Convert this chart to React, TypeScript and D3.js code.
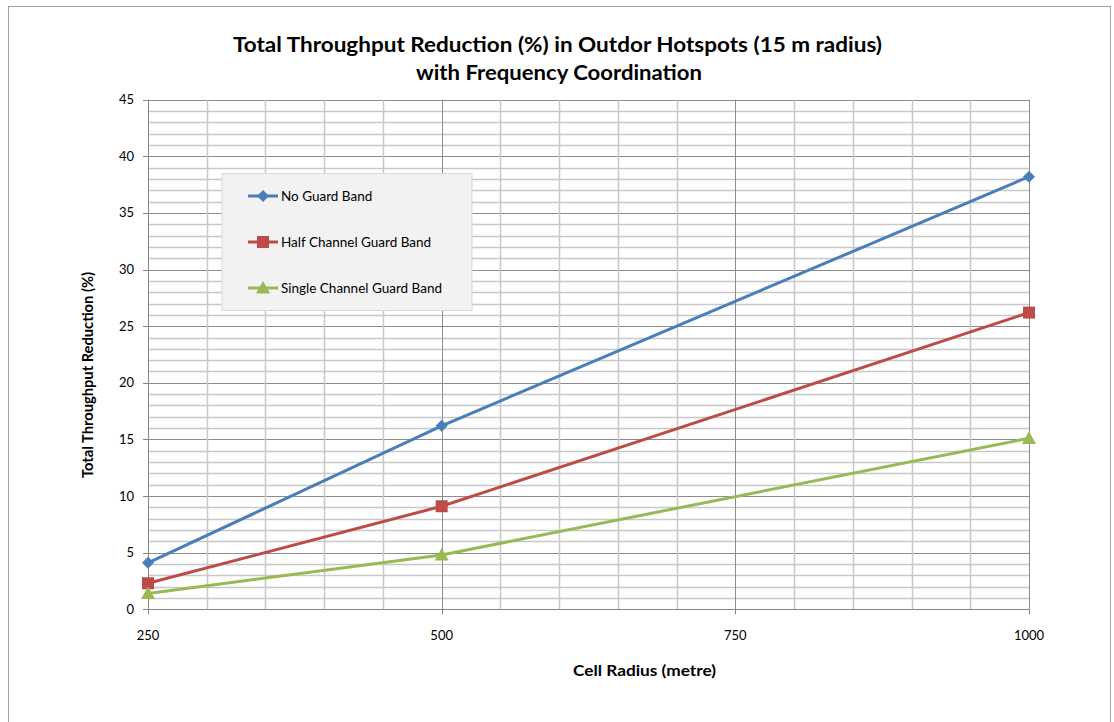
import React from "react";
import * as d3 from "d3";

const radii = [250, 500, 1000];
const noGuard = [4.1, 16.2, 38.2];
const halfChannel = [2.3, 9.1, 26.2];
const singleChannel = [1.4, 4.8, 15.1];

const seriesNames = ["No Guard Band", "Half Channel Guard Band", "Single Channel Guard Band"];
const seriesColors = ["#4a7ebb", "#be4b48", "#98b954"];
const seriesShapes = ["diamond", "square", "triangle"];

const xTicks = [250, 500, 750, 1000];
const yTicks = [0, 5, 10, 15, 20, 25, 30, 35, 40, 45];

const W = 1114;
const H = 722;
const left = 148;
const right = 1029;
const top = 99.7;
const bottom = 609.3;
const FONT = "Lato, 'Open Sans', sans-serif";

function Marker({ shape, x, y, color }: { shape: string; x: number; y: number; color: string }) {
  if (shape === "diamond") {
    const s = 6;
    return <path d={`M${x},${y - s}L${x + s},${y}L${x},${y + s}L${x - s},${y}Z`} fill={color} />;
  }
  if (shape === "square") {
    const s = 6;
    return <rect x={x - s} y={y - s} width={2 * s} height={2 * s} fill={color} />;
  }
  const s = 7;
  return <path d={`M${x},${y - s}L${x + s},${y + s * 0.8}L${x - s},${y + s * 0.8}Z`} fill={color} />;
}

export default function App() {
  const x = d3.scaleLinear().domain([250, 1000]).range([left, right]);
  const y = d3.scaleLinear().domain([0, 45]).range([bottom, top]);
  const series = [noGuard, halfChannel, singleChannel];
  const line = d3
    .line<number>()
    .x((_, i) => x(radii[i]))
    .y((v) => y(v));

  const minorY = d3.range(0, 46, 1);
  const minorX = d3.range(250, 1001, 50);

  const legendRows = [196, 242, 288];

  return (
    <svg width={W} height={H} style={{ position: "absolute", left: 0, top: 0 }}>
      <rect x={0} y={0} width={W} height={H} fill="#ffffff" />
      <rect x={8.5} y={6.5} width={1102} height={730} fill="#ffffff" stroke="#a0a0a0" strokeWidth={1} />

      <text
        x={557.5}
        y={52}
        textAnchor="middle"
        fontFamily={FONT}
        fontWeight="bold"
        fontSize={20}
        fill="#000"
        textLength={649}
        lengthAdjust="spacingAndGlyphs"
      >
        Total Throughput Reduction (%) in Outdor Hotspots (15 m radius)
      </text>
      <text
        x={559}
        y={80}
        textAnchor="middle"
        fontFamily={FONT}
        fontWeight="bold"
        fontSize={20}
        fill="#000"
        textLength={286}
        lengthAdjust="spacingAndGlyphs"
      >
        with Frequency Coordination
      </text>

      {/* horizontal grid */}
      {minorY.map((v) => (
        <line
          key={"h" + v}
          x1={left}
          x2={right}
          y1={Math.round(y(v)) + 0.5}
          y2={Math.round(y(v)) + 0.5}
          stroke={v % 5 === 0 ? "#8c8c8c" : "#c8c8c8"}
          strokeWidth={v % 5 === 0 ? 1 : 1.3}
        />
      ))}
      {/* vertical grid */}
      {minorX.map((v) => (
        <line
          key={"v" + v}
          x1={Math.round(x(v)) + 0.5}
          x2={Math.round(x(v)) + 0.5}
          y1={top}
          y2={bottom}
          stroke={v % 250 === 0 ? "#8c8c8c" : "#c8c8c8"}
          strokeWidth={v % 250 === 0 ? 1 : 1.5}
        />
      ))}

      {/* axes */}
      <line x1={left + 0.5} x2={left + 0.5} y1={top} y2={bottom} stroke="#868686" />
      <line x1={left} x2={right} y1={Math.round(bottom) + 0.5} y2={Math.round(bottom) + 0.5} stroke="#868686" />
      {yTicks.map((t) => (
        <g key={"yt" + t}>
          <line x1={left - 5} x2={left} y1={Math.round(y(t)) + 0.5} y2={Math.round(y(t)) + 0.5} stroke="#868686" />
          <text x={134} y={y(t) + 4.5} textAnchor="end" fontFamily={FONT} fontSize={13} fill="#000">
            {t}
          </text>
        </g>
      ))}
      {xTicks.map((t) => (
        <g key={"xt" + t}>
          <line
            x1={Math.round(x(t)) + 0.5}
            x2={Math.round(x(t)) + 0.5}
            y1={bottom}
            y2={bottom + 5}
            stroke="#868686"
          />
          <text x={x(t)} y={640} textAnchor="middle" fontFamily={FONT} fontSize={13} fill="#000">
            {t}
          </text>
        </g>
      ))}

      <text
        transform={`translate(93,375) rotate(-90)`}
        textAnchor="middle"
        fontFamily={FONT}
        fontWeight="bold"
        fontSize={15}
        fill="#000"
        textLength={206}
        lengthAdjust="spacingAndGlyphs"
      >
        Total Throughput Reduction (%)
      </text>
      <text
        x={644.5}
        y={676}
        textAnchor="middle"
        fontFamily={FONT}
        fontWeight="bold"
        fontSize={15}
        fill="#000"
        textLength={143}
        lengthAdjust="spacingAndGlyphs"
      >
        Cell Radius (metre)
      </text>

      {/* series */}
      {series.map((s, si) => (
        <g key={"s" + si}>
          <path d={line(s) ?? ""} fill="none" stroke={seriesColors[si]} strokeWidth={3} strokeLinejoin="round" />
          {s.map((v, i) => (
            <Marker key={i} shape={seriesShapes[si]} x={x(radii[i])} y={y(v)} color={seriesColors[si]} />
          ))}
        </g>
      ))}

      {/* legend */}
      <rect x={222} y={173.5} width={250} height={137} fill="#f2f2f2" stroke="#d9d9d9" />
      {seriesNames.map((name, i) => (
        <g key={"lg" + i}>
          <line x1={248} x2={278} y1={legendRows[i]} y2={legendRows[i]} stroke={seriesColors[i]} strokeWidth={3} />
          <Marker shape={seriesShapes[i]} x={263} y={legendRows[i]} color={seriesColors[i]} />
          <text x={281} y={legendRows[i] + 4.5} fontFamily={FONT} fontSize={13.5} fill="#000">
            {name}
          </text>
        </g>
      ))}
    </svg>
  );
}
